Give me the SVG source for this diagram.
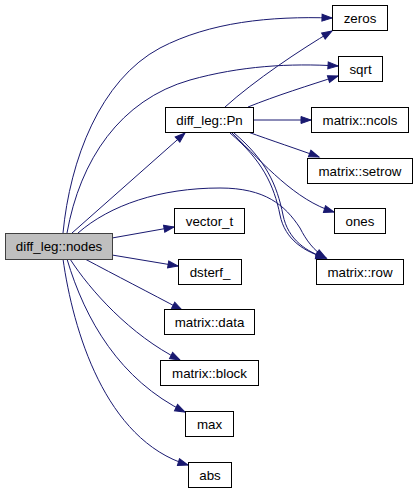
<svg xmlns="http://www.w3.org/2000/svg" width="419" height="493" viewBox="0 0 419 493">
<style>
.n rect{fill:#fff;stroke:#000;stroke-width:1}
.n.root rect{fill:#bfbfbf;stroke:#404040}
.n text{font-family:"Liberation Sans",Arial,sans-serif;font-size:13.33px;text-anchor:middle;fill:#000}
.e path{fill:none;stroke:#191970;stroke-width:1;marker-end:url(#ah)}
</style>
<defs>
<marker id="ah" markerUnits="userSpaceOnUse" markerWidth="12" markerHeight="9" refX="10" refY="3.5" orient="auto" overflow="visible">
<path d="M0,0 L10,3.5 L0,7 z" fill="#191970" stroke="#191970" stroke-width="1"/>
</marker>
</defs>
<rect width="419" height="493" fill="#fff"/>
<g id="edges" class="e">
<path d="M63,233 C70,160 100,80 160,48 C210,22 270,16 332,18"/>
<path d="M67,233 C80,160 120,100 190,80 C240,66 290,63 338,66"/>
<path d="M72,233 L185,133"/>
<path d="M78,233 C110,205 160,188 220,188 C265,188 285,205 300,228 C306,240 314,251 326,258"/>
<path d="M112,238 L174,227"/>
<path d="M112,255 L178,266"/>
<path d="M85,259 C115,275 150,293 182,310"/>
<path d="M70,259 C90,290 130,335 180,360"/>
<path d="M67,259 C85,320 120,380 185,412"/>
<path d="M63,259 C73,330 105,440 188,465"/>
<path d="M225,107 C255,80 300,50 332,31"/>
<path d="M248,107 C275,96 310,85 338,76"/>
<path d="M253,120 L311,120"/>
<path d="M248,132 C270,140 300,150 319,157"/>
<path d="M232,133 C265,165 295,200 334,212"/>
<path d="M230,133 C262,160 274,185 280,215 C285,240 305,252 326,258"/>
<path d="M234,133 C266,160 277,185 283,215 C288,240 307,252 326,258"/>
</g>
<g id="node_nodes" class="n root"><rect x="5.5" y="233.5" width="107" height="26"/><text x="59" y="251">diff_leg::nodes</text></g>
<g id="node_Pn" class="n"><rect x="165.5" y="107.5" width="88" height="25"/><text x="209.5" y="124.5">diff_leg::Pn</text></g>
<g id="node_zeros" class="n"><rect x="332.5" y="5.5" width="55" height="25"/><text x="360" y="22.5">zeros</text></g>
<g id="node_sqrt" class="n"><rect x="338.5" y="56.5" width="44" height="25"/><text x="360.5" y="73.5">sqrt</text></g>
<g id="node_ncols" class="n"><rect x="311.5" y="107.5" width="97" height="25"/><text x="360" y="124.5">matrix::ncols</text></g>
<g id="node_setrow" class="n"><rect x="307.5" y="158.5" width="105" height="25"/><text x="360" y="175.5">matrix::setrow</text></g>
<g id="node_ones" class="n"><rect x="334.5" y="208.5" width="51" height="25"/><text x="360" y="225.5">ones</text></g>
<g id="node_row" class="n"><rect x="316.5" y="259.5" width="87" height="25"/><text x="360" y="276.5">matrix::row</text></g>
<g id="node_vector_t" class="n"><rect x="174.5" y="208.5" width="70" height="25"/><text x="209.5" y="225.5">vector_t</text></g>
<g id="node_dsterf" class="n"><rect x="178.5" y="259.5" width="63" height="25"/><text x="210" y="276.5">dsterf_</text></g>
<g id="node_data" class="n"><rect x="164.5" y="309.5" width="90" height="25"/><text x="209.5" y="326.5">matrix::data</text></g>
<g id="node_block" class="n"><rect x="160.5" y="360.5" width="98" height="25"/><text x="209.5" y="377.5">matrix::block</text></g>
<g id="node_max" class="n"><rect x="185.5" y="411.5" width="48" height="25"/><text x="209.5" y="428.5">max</text></g>
<g id="node_abs" class="n"><rect x="188.5" y="462.5" width="43" height="25"/><text x="210" y="479.5">abs</text></g>
</svg>
